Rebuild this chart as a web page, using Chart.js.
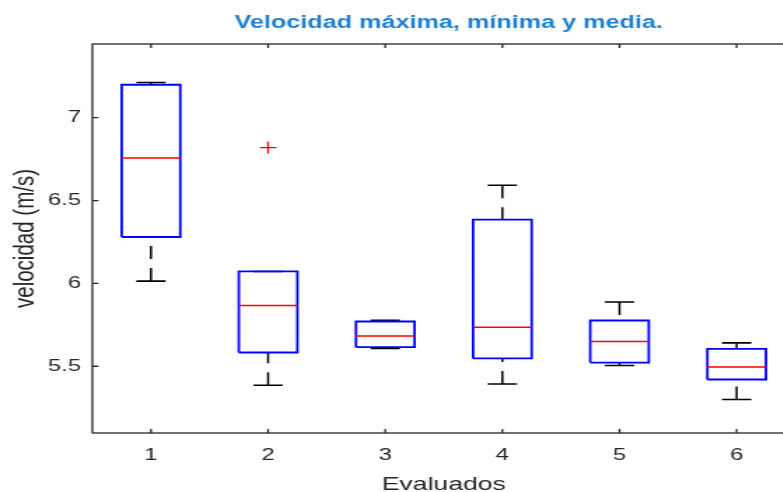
<!DOCTYPE html>
<html>
<head>
<meta charset="utf-8">
<script src="https://cdn.jsdelivr.net/npm/chart.js@4/dist/chart.umd.min.js"></script>
<style>
    html, body { margin: 0; padding: 0; background: #fff; overflow: hidden; }
    /* la figura original esta estirada a lo ancho */
    #marco { width: 641px; height: 492px; transform: scaleX(1.4); transform-origin: 0 0; }
</style>
</head>
<body>
<div id="marco"><canvas id="grafico" width="641" height="492"></canvas></div>
<script>
const categorias = ['1', '2', '3', '4', '5', '6'];
const minimos  = [6.014, 5.385, 5.607, 5.393, 5.504, 5.299];
const q1       = [6.280, 5.583, 5.615, 5.547, 5.522, 5.420];
const medianas = [6.757, 5.867, 5.683, 5.736, 5.649, 5.496];
const q3       = [7.199, 6.072, 5.770, 6.385, 5.776, 5.605];
const maximos  = [7.213, 6.072, 5.778, 6.592, 5.888, 5.641];
const atipicosX = [2];
const atipicosY = [6.82];
const ticksY = [5.5, 6, 6.5, 7];

const fuente = "'Liberation Sans', Arial, sans-serif";
const colorEjes = '#262626';
const anchoCaja = 0.25;
const anchoTope = 0.125;

function puntos(fn) {
    let res = [];
    categorias.forEach((c, i) => {
        res = res.concat(fn(i + 1, i));
        res.push({ x: i + 1, y: null });
    });
    return res;
}

const cajas = puntos((x, i) => [
    { x: x - anchoCaja, y: q1[i] }, { x: x + anchoCaja, y: q1[i] },
    { x: x + anchoCaja, y: q3[i] }, { x: x - anchoCaja, y: q3[i] },
    { x: x - anchoCaja, y: q1[i] }
]);
const lineasMediana = puntos((x, i) => [
    { x: x - anchoCaja, y: medianas[i] }, { x: x + anchoCaja, y: medianas[i] }
]);
const topes = puntos((x, i) => [
    { x: x - anchoTope, y: maximos[i] }, { x: x + anchoTope, y: maximos[i] },
    { x: x, y: null },
    { x: x - anchoTope, y: minimos[i] }, { x: x + anchoTope, y: minimos[i] }
]);
const bigotes = puntos((x, i) => [
    { x: x, y: maximos[i] }, { x: x, y: q3[i] },
    { x: x, y: null },
    { x: x, y: minimos[i] }, { x: x, y: q1[i] }
]);

const marcoEjes = {
    id: 'marcoEjes',
    afterDatasetsDraw(chart) {
        const { ctx, chartArea: a, scales: { x, y } } = chart;
        ctx.save();
        ctx.strokeStyle = colorEjes;
        ctx.lineWidth = 1.3;
        ctx.strokeRect(a.left, a.top, a.right - a.left, a.bottom - a.top);
        ctx.beginPath();
        x.ticks.forEach(t => {
            const px = x.getPixelForValue(t.value);
            ctx.moveTo(px, a.bottom); ctx.lineTo(px, a.bottom - 4);
            ctx.moveTo(px, a.top); ctx.lineTo(px, a.top + 4);
        });
        y.ticks.forEach(t => {
            const py = y.getPixelForValue(t.value);
            ctx.moveTo(a.left, py); ctx.lineTo(a.left + 4.3, py);
            ctx.moveTo(a.right, py); ctx.lineTo(a.right - 4.3, py);
        });
        ctx.stroke();
        ctx.restore();
    }
};

const linea = { showLine: true, pointRadius: 0, tension: 0, spanGaps: false, borderJoinStyle: 'miter' };

new Chart(document.getElementById('grafico'), {
    type: 'scatter',
    data: {
        datasets: [
            { ...linea, data: lineasMediana, borderColor: '#ff0000', borderWidth: 1.5, order: 0 },
            { ...linea, data: cajas, borderColor: '#0000ff', borderWidth: 1.8, order: 1 },
            { ...linea, data: topes, borderColor: '#000000', borderWidth: 1.6, order: 2 },
            { ...linea, data: bigotes, borderColor: '#000000', borderWidth: 1.5, borderDash: [13, 9], order: 3 },
            {
                data: atipicosX.map((x, i) => ({ x: x, y: atipicosY[i] })),
                pointStyle: 'cross', pointRadius: 6, borderColor: '#ff0000', borderWidth: 1.3,
                showLine: false, order: 0
            }
        ]
    },
    options: {
        responsive: false,
        animation: false,
        devicePixelRatio: 1,
        events: [],
        layout: { padding: 0 },
        plugins: {
            legend: { display: false },
            tooltip: { enabled: false },
            title: {
                display: true,
                text: 'Velocidad máxima, mínima y media.',
                color: '#1f80d2',
                font: { family: fuente, size: 18, weight: 'bold' },
                padding: { top: 12, bottom: 10.4 }
            }
        },
        scales: {
            x: {
                type: 'linear',
                min: 0.5,
                max: 6.5,
                grid: { display: false, drawTicks: false },
                border: { display: false },
                afterBuildTicks: s => { s.ticks = categorias.map((c, i) => ({ value: i + 1 })); },
                afterFit: s => { s.height = 59; },
                ticks: {
                    color: colorEjes, font: { family: fuente, size: 17 }, padding: 12,
                    autoSkip: false, maxRotation: 0,
                    callback: (v, i) => categorias[i]
                },
                title: {
                    display: true, text: 'Evaluados', color: colorEjes,
                    font: { family: fuente, size: 19 }, padding: { top: 0, bottom: -4 }
                }
            },
            y: {
                min: 5.097,
                max: 7.445,
                grid: { display: false, drawTicks: false },
                border: { display: false },
                afterBuildTicks: s => { s.ticks = ticksY.map(v => ({ value: v })); },
                afterFit: s => { s.width = 66; },
                ticks: {
                    color: colorEjes, font: { family: fuente, size: 17 }, padding: 8,
                    callback: v => String(v)
                },
                title: {
                    display: true, text: 'velocidad (m/s)', color: colorEjes,
                    font: { family: fuente, size: 20.5 }, padding: { top: 6.5, bottom: 0 }
                }
            },
            // eje derecho vacio: solo reserva el hueco a la derecha del area
            derecha: {
                type: 'linear',
                position: 'right',
                grid: { display: false, drawTicks: false },
                border: { display: false },
                ticks: { display: false },
                afterFit: s => { s.width = 73; }
            }
        }
    },
    plugins: [marcoEjes]
});
</script>
</body>
</html>
